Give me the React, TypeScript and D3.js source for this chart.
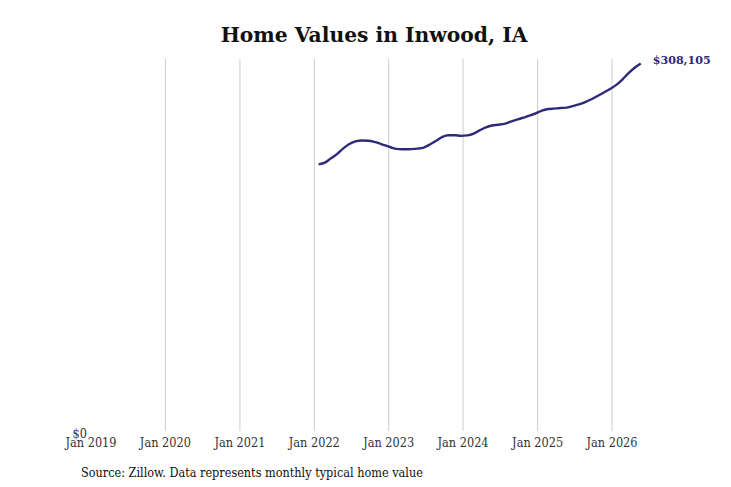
import React from "react";
import * as d3 from "d3";

const title = "Home Values in Inwood, IA";
const source = "Source: Zillow. Data represents monthly typical home value";
const startYear = 2022;
const startMonth = 0; // January
const values: number[] = [
  223500, 224900, 228300, 232100, 236700, 240500, 242800, 243500, 243300, 242350, 240750, 239000,
  237150, 236300, 236150, 236300, 236700, 237600, 240100, 243200, 246600, 247900, 247900, 247400,
  247800, 249300, 252000, 254500, 256100, 256700, 257400, 259300, 260950, 262600, 264300, 266150,
  268600, 269850, 270250, 270700, 271000, 272350, 273700, 275700, 278050, 280800, 283750, 286700,
  290100, 294800, 299750, 304500, 308105,
];
const tickYears: number[] = [2019, 2020, 2021, 2022, 2023, 2024, 2025, 2026];
const lastLabel = "$308,105";

const W = 731;
const H = 487;
const color = "#2e2a7a";

export default function App() {
  const data = values.map((v, i) => ({
    date: new Date(startYear, startMonth + i, 22),
    value: v,
  }));
  const x = d3
    .scaleTime()
    .domain([new Date(2019, 0, 1), new Date(2026, 0, 1)])
    .range([91, 612]);
  const y = d3
    .scaleLinear()
    .domain([0, d3.max(values)! * 1.012])
    .range([431, 59]);
  const line = d3
    .line<{ date: Date; value: number }>()
    .x((d) => x(d.date))
    .y((d) => y(d.value))
    .curve(d3.curveMonotoneX);
  const last = data[data.length - 1];
  const font = "'DejaVu Serif Condensed', 'DejaVu Serif', serif";
  return (
    <svg
      width={W}
      height={H}
      style={{ position: "absolute", left: 0, top: 0, background: "#fff" }}
    >
      <text
        x={374}
        y={42}
        textAnchor="middle"
        fontFamily="'DejaVu Serif', serif"
        fontWeight="bold"
        fontSize={20.3}
        fill="#111"
      >
        {title}
      </text>
      {tickYears.slice(1).map((yr) => (
        <line
          key={yr}
          x1={x(new Date(yr, 0, 1))}
          x2={x(new Date(yr, 0, 1))}
          y1={59}
          y2={431}
          stroke="#cccccc"
          strokeWidth={1}
        />
      ))}
      {tickYears.map((yr) => (
        <text
          key={"t" + yr}
          x={x(new Date(yr, 0, 1))}
          y={446.5}
          textAnchor="middle"
          fontFamily={font}
          fontSize={12.6}
          fill="#333"
        >
          {"Jan " + yr}
        </text>
      ))}
      <text
        x={87}
        y={438}
        textAnchor="end"
        fontFamily={font}
        fontSize={12.6}
        fill="#333"
      >
        $0
      </text>
      <path d={line(data) ?? ""} fill="none" stroke={color} strokeWidth={2.4} />
      <text
        x={x(last.date) + 12}
        y={y(last.value) + 0.5}
        fontFamily="'DejaVu Serif', serif"
        fontWeight="bold"
        fontSize={11.1}
        fill={color}
      >
        {lastLabel}
      </text>
      <text x={81} y={476.5} fontFamily={font} fontSize={12.55} fill="#111">
        {source}
      </text>
    </svg>
  );
}
